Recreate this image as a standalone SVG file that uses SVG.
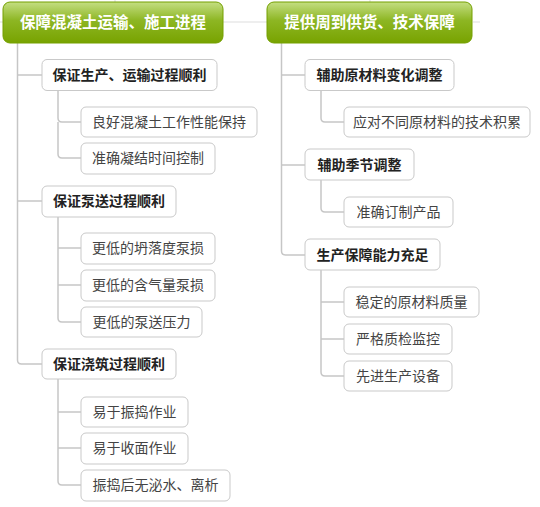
<svg xmlns="http://www.w3.org/2000/svg" width="540" height="507" viewBox="0 0 540 507">
<defs>
<linearGradient id="rootg" x1="0" y1="0" x2="0" y2="1">
<stop offset="0" stop-color="#c4de82"/>
<stop offset="0.45" stop-color="#8db623"/>
<stop offset="1" stop-color="#78a300"/>
</linearGradient>
<style>
.root rect{fill:url(#rootg);stroke:#74a000;stroke-width:1}
.root text{font-family:"Noto Sans CJK SC","Noto Sans",sans-serif;font-size:15.5px;font-weight:bold;fill:#fff;text-anchor:middle}
.l2 rect{fill:#fff;stroke:#c9c9c9;stroke-width:1}
.l2 text{font-family:"Noto Sans CJK SC","Noto Sans",sans-serif;font-size:14px;font-weight:bold;fill:#222;text-anchor:middle}
.l3 rect{fill:#fff;stroke:#c9c9c9;stroke-width:1}
.l3 text{font-family:"Noto Sans CJK SC","Noto Sans",sans-serif;font-size:14px;fill:#444;text-anchor:middle}
.c{fill:none;stroke:#c6c6c6;stroke-width:1.5}
.s{fill:none;stroke:#dddddd;stroke-width:1}
</style>
</defs>
<rect width="540" height="507" fill="#fff"/>
<g id="connectors">
<path class="s" d="M115 0V2M370 0V2M0 22H3M223 22H267M473 22H480"/>
<path class="c" d="M17.5 43V360q0 4 4 4H42M17.5 75H42M17.5 201H42"/>
<path class="c" d="M58 90V118q0 4 4 4H81M58 122V154q0 4 4 4H81"/>
<path class="c" d="M58 217V318q0 4 4 4H81M58 248H81M58 285H81"/>
<path class="c" d="M58 379V481q0 4 4 4H81M58 412H81M58 448H81"/>
<path class="c" d="M281.5 43V251q0 4 4 4H305M281.5 75H305M281.5 165H305"/>
<path class="c" d="M321 90V118q0 4 4 4H344"/>
<path class="c" d="M321 180V208q0 4 4 4H344"/>
<path class="c" d="M321 270V372q0 4 4 4H344M321 302H344M321 339H344"/>
</g>
<g id="root1" class="root"><rect x="3" y="2" width="220" height="41" rx="7"/><text x="113" y="28">保障混凝土运输、施工进程</text></g>
<g id="root2" class="root"><rect x="267" y="2" width="205" height="41" rx="7"/><text x="369.5" y="28">提供周到供货、技术保障</text></g>
<g id="n1" class="l2"><rect x="42" y="59.5" width="175" height="31" rx="5"/><text x="129.5" y="80">保证生产、运输过程顺利</text></g>
<g id="n2" class="l2"><rect x="42" y="186" width="134" height="31" rx="5"/><text x="109" y="206">保证泵送过程顺利</text></g>
<g id="n3" class="l2"><rect x="42" y="349" width="134" height="30" rx="5"/><text x="109" y="369">保证浇筑过程顺利</text></g>
<g id="n1a" class="l3"><rect x="81" y="107" width="176" height="30" rx="5"/><text x="169" y="127">良好混凝土工作性能保持</text></g>
<g id="n1b" class="l3"><rect x="81" y="143" width="134" height="31" rx="5"/><text x="148" y="163">准确凝结时间控制</text></g>
<g id="n2a" class="l3"><rect x="81" y="233" width="134" height="31" rx="5"/><text x="148" y="253">更低的坍落度泵损</text></g>
<g id="n2b" class="l3"><rect x="81" y="270" width="134" height="31" rx="5"/><text x="148" y="290">更低的含气量泵损</text></g>
<g id="n2c" class="l3"><rect x="81" y="307" width="121" height="30" rx="5"/><text x="141.5" y="327">更低的泵送压力</text></g>
<g id="n3a" class="l3"><rect x="81" y="397" width="107" height="30" rx="5"/><text x="134.5" y="417">易于振捣作业</text></g>
<g id="n3b" class="l3"><rect x="81" y="433" width="107" height="31" rx="5"/><text x="134.5" y="453">易于收面作业</text></g>
<g id="n3c" class="l3"><rect x="81" y="470" width="149" height="31" rx="5"/><text x="155.5" y="490">振捣后无泌水、离析</text></g>
<g id="m1" class="l2"><rect x="305" y="59.5" width="149" height="31" rx="5"/><text x="379.5" y="80">辅助原材料变化调整</text></g>
<g id="m2" class="l2"><rect x="305" y="149" width="109" height="31" rx="5"/><text x="359.5" y="170">辅助季节调整</text></g>
<g id="m3" class="l2"><rect x="305" y="239" width="135" height="31" rx="5"/><text x="372.5" y="260">生产保障能力充足</text></g>
<g id="m1a" class="l3"><rect x="344" y="107" width="186" height="30" rx="5"/><text x="437" y="127">应对不同原材料的技术积累</text></g>
<g id="m2a" class="l3"><rect x="344" y="197" width="109" height="30" rx="5"/><text x="398.5" y="217">准确订制产品</text></g>
<g id="m3a" class="l3"><rect x="344" y="287" width="135" height="30" rx="5"/><text x="411.5" y="307">稳定的原材料质量</text></g>
<g id="m3b" class="l3"><rect x="344" y="324" width="108" height="30" rx="5"/><text x="398" y="344">严格质检监控</text></g>
<g id="m3c" class="l3"><rect x="344" y="361" width="108" height="30" rx="5"/><text x="398" y="381">先进生产设备</text></g>
</svg>
